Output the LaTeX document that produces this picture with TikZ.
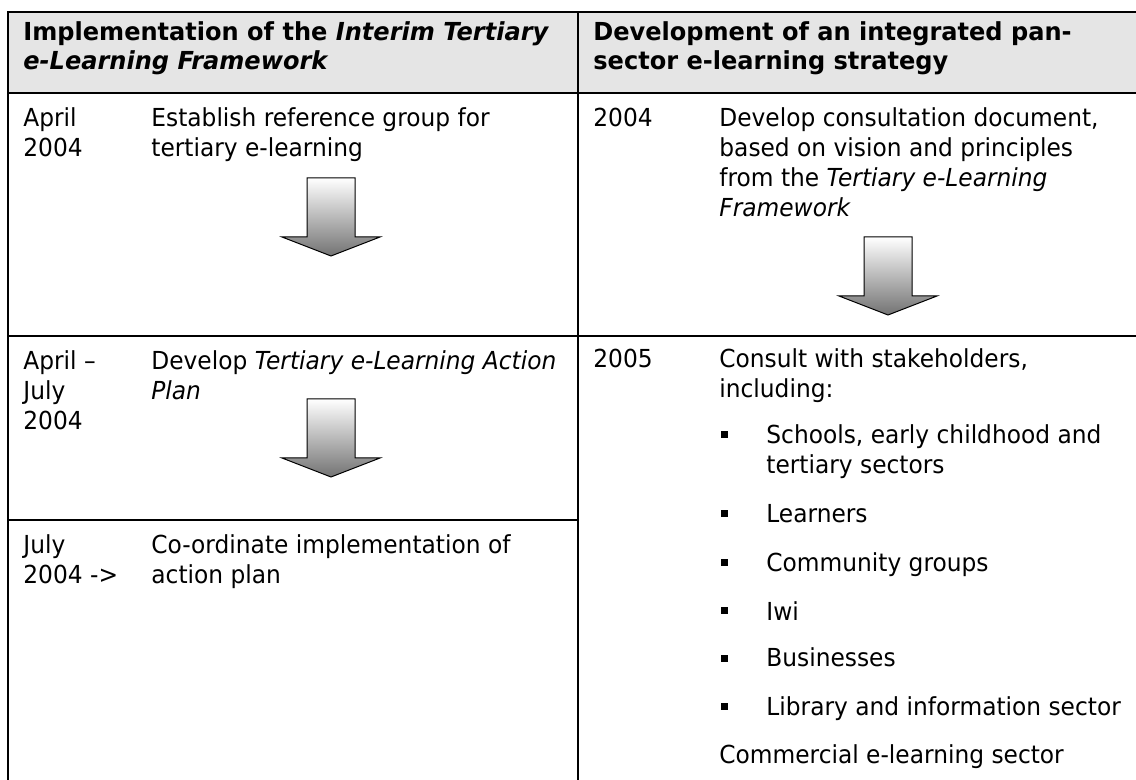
\documentclass[tikz,border=0pt]{standalone}
\usepackage{fontspec}
\setmainfont{DejaVu Sans}[FakeStretch=0.94,
  BoldFeatures={FakeStretch=0.97}, BoldItalicFeatures={FakeStretch=0.97}]
\usetikzlibrary{positioning}

% multi-line cells sit on the baseline of their last line
\tikzset{
  cell/.style={anchor=base west, align=left, inner sep=0pt, font=\fontsize{12.4}{15}\selectfont},
  head/.style={cell, font=\fontsize{12.4}{14.5}\selectfont\bfseries},
  rule/.style={line width=1pt},
  bigarrow/.style={draw=black, line width=0.5pt, top color=white, bottom color=black!55},
  dot/.style={fill=black, inner sep=0pt, minimum size=3.5pt}
}

\begin{document}
\begin{tikzpicture}[x=0.5pt, y=-0.5pt]

\useasboundingbox (0,0) rectangle (1136,780);

% table frame
\fill[gray!20] (8,12) rectangle (1136,93);
\draw[rule] (8,780) -- (8,12) -- (1136,12);
\draw[rule] (8,93) -- (1136,93);
\draw[rule] (578,12) -- (578,780);
\draw[rule] (8,336) -- (1136,336);
\draw[rule] (8,520) -- (578,520);

% headings
\node[head] (hdrL) at (23,70)  {Implementation of the \textit{Interim Tertiary}\\\textit{e-Learning Framework}};
\node[head] (hdrR) at (593,70) {Development of an integrated pan-\\sector e-learning strategy};

% left column
\node[cell] (dateA) at (23,157)  {April\\2004};
\node[cell] (taskA) at (151,157) {Establish reference group for\\tertiary e-learning};

\node[cell] (dateC) at (23,430)  {April --\\July\\2004};
\node[cell] (taskC) at (151,400) {Develop \textit{Tertiary e-Learning Action}\\\textit{Plan}};

\node[cell] (dateD) at (23,584)  {July\\2004 ->};
\node[cell] (taskD) at (151,584) {Co-ordinate implementation of\\action plan};

% right column
\node[cell] (dateB) at (593,127) {2004};
\node[cell] (taskB) at (719,217) {Develop consultation document,\\based on vision and principles\\from the \textit{Tertiary e-Learning}\\\textit{Framework}};

\node[cell] (dateE) at (593,368) {2005};
\node[cell] (taskE) at (719,398) {Consult with stakeholders,\\including:};

\node[cell] (itemA) at (766,474) {Schools, early childhood and\\tertiary sectors};
\node[cell] (itemB) at (766,523) {Learners};
\node[cell] (itemC) at (766,572) {Community groups};
\node[cell] (itemD) at (766,620) {Iwi};
\node[cell] (itemE) at (766,667) {Businesses};
\node[cell] (itemF) at (766,715) {Library and information sector};
\node[cell] (taskF) at (719,763) {Commercial e-learning sector};

\node[dot] (dotA) at (724,435) {};
\node[dot] (dotB) at (724,514) {};
\node[dot] (dotC) at (724,563) {};
\node[dot] (dotD) at (724,611) {};
\node[dot] (dotE) at (724,658) {};
\node[dot] (dotF) at (724,706) {};

% block arrows
\coordinate (arrA) at (331,178);
\coordinate (arrB) at (888,237);
\coordinate (arrC) at (331,399);
\shade[bigarrow] (arrA) ++(-24,0) -- ++(48,0) -- ++(0,59) -- ++(25,0) -- ++(-49,19) -- ++(-49,-19) -- ++(25,0) -- cycle;
\shade[bigarrow] (arrB) ++(-24,0) -- ++(48,0) -- ++(0,59) -- ++(25,0) -- ++(-49,19) -- ++(-49,-19) -- ++(25,0) -- cycle;
\shade[bigarrow] (arrC) ++(-24,0) -- ++(48,0) -- ++(0,59) -- ++(25,0) -- ++(-49,19) -- ++(-49,-19) -- ++(25,0) -- cycle;

\end{tikzpicture}
\end{document}
